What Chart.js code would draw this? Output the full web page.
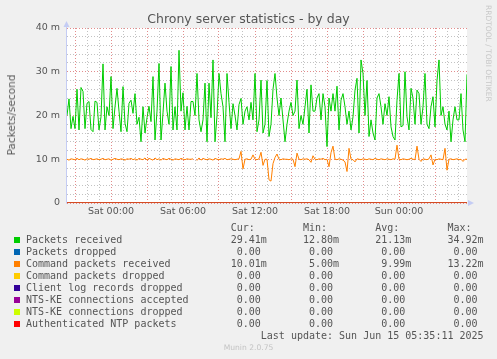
<!DOCTYPE html>
<html>
<head>
<meta charset="utf-8">
<script src="https://cdn.jsdelivr.net/npm/chart.js@4.4.0/dist/chart.umd.min.js"></script>
<style>
  html, body { margin: 0; padding: 0; background: #f0f0f0; }
  #wrap { position: relative; width: 497px; height: 359px; overflow: hidden; font-family: "DejaVu Sans", sans-serif; }
  #chart { position: absolute; left: 0; top: 0; }
  .title { position: absolute; left: 0; top: 12px; width: 497px; text-align: center; font-size: 12.5px; line-height: 14px; color: #555; }
  .ylabel { position: absolute; left: 10.5px; top: 115px; transform: translate(-50%, -50%) rotate(-90deg); font-size: 10.5px; color: #5a5a5a; white-space: nowrap; }
  .credit { position: absolute; left: 484px; top: 5px; writing-mode: vertical-rl; font-size: 7.5px; line-height: 8px; color: #c8c8c8; white-space: nowrap; }
  pre.legend { position: absolute; left: 26px; top: 221.7px; margin: 0; font-family: "DejaVu Sans Mono", monospace; font-size: 10px; line-height: 12px; color: #555; }
  .sw { position: absolute; left: 14px; width: 6px; height: 6px; }
  .munin { position: absolute; left: 0; top: 343px; width: 497px; text-align: center; font-size: 7.6px; line-height: 10px; color: #c4c4c4; }
</style>
</head>
<body>
<div id="wrap">
  <canvas id="chart" width="497" height="225"></canvas>
  <div class="title">Chrony server statistics - by day</div>
  <div class="ylabel">Packets/second</div>
  <div class="credit">RRDTOOL / TOBI OETIKER</div>
  <pre class="legend" id="legend"></pre>
  <div class="munin">Munin 2.0.75</div>
</div>
<script>
// ---- data (hours relative to Sat 00:00, one sample every 10 minutes) ----
const startHour = -44 / 12;
const endHour = startHour + 400 / 12;
const sampleStep = 1 / 6;

// packets received (m/s)
const packetsReceived = [
  20, 23.8, 17, 19.8, 17, 26, 16.7, 26.4, 25.5, 17, 22.8, 23.2, 16.8, 16.3, 23.3, 23, 16.7, 19.7, 31.8, 16.7,
  22, 20, 28.9, 17, 22, 26.2, 21, 16.3, 26.6, 18.2, 16.3, 22.8, 23.5,
  20.5, 25, 18, 19.6, 14, 22, 16, 19.5, 22.1, 18.6, 28.9, 14.4, 21, 31.9, 14.4, 20.6, 27.4, 21, 18, 31.2,
  16.7, 22, 16.7, 34.9, 21, 25.2, 16.7, 22.1, 16.7, 23.2, 23.2, 20, 29.6, 19,
  16.3, 19, 27.4, 14, 27.4, 19.5, 32.7, 14, 20, 29.6, 25, 22, 14, 29.6, 23, 17, 22.7, 20, 16.7, 22.5,
  23.9, 18, 21, 22, 19, 23, 19, 29.6, 16.3, 19, 28.1, 16, 18, 28,
  15.2, 18, 26, 29.6, 24, 20, 24, 19, 14, 18, 21, 23, 20, 21, 28.1, 17, 20, 18, 22, 26,
  16, 27, 21, 21, 24, 25, 19, 25, 22, 12.9, 24, 21, 25, 21,
  26.7, 16.7, 23.5, 25, 22, 18, 21, 16.7, 19.7, 25.8, 28.5, 16, 32.7, 29.6, 20, 28, 15.2, 19, 16, 14.4,
  24, 25, 22, 18, 22.7, 20, 24.3, 17.4, 15.2, 14.4, 23.5, 29.6, 17.4, 17.7,
  30, 19.7, 16.7, 26.2, 24, 18, 25.8, 25, 18, 22, 29.6, 18, 17, 22, 24.3, 17.4, 28, 32.7, 20, 22,
  18, 16.7, 21, 14, 19, 22, 19, 19, 25, 16.7, 14, 29.4
];

// command packets received (m/s), null = no data
const commandReceived = [
  10.0, 9.8, 10.1, 10.0, 9.9, 10.2, 9.9, 10.1, 10.0, 9.8,
  10.1, 10.0, 10.2, 9.9, 10.0, 10.1, 9.9, 10.0, 10.2, 9.9,
  10.0, 10.1, 9.8, 10.0, 10.2, 10.0, 9.9, 10.1, 10.0, 9.8,
  10.1, 10.0, 10.2, 9.9, 10.1, 9.8, 10.2, 10.0, 9.9, 10.3,
  9.8, 10.2, 10.0, 9.8, 10.3, 9.9, 10.1, 9.8, 10.2, 10.0,
  9.9, 10.2, 10.0, 9.8, 10.1, 10.0, 9.9, 10.2, 10.0, 9.9,
  10.1, 10.0, 10.0, 10.1, null, 9.7, 10.3, 9.8, 10.2, 10.0,
  9.9, 10.1, 10.0, 9.8, 10.2, 10.0, 9.9, 10.1, 10.0, 10.2,
  9.9, 10.0, 10.1, 10.0, 9.9, 10.0, 10.1, 11.8, 7.8, 10.0,
  10.1, 9.9, 10.0, 11.0, 10.0, 9.9, 10.1, 11.6, 8.6, 10.0,
  10.0, 5.3, 5.0, 9.0, 10.4, 11.2, 10.0, 9.9, 10.1, 10.0,
  10.0, 9.9, 10.1, 10.0, 8.3, 11.4, 10.0, 9.9, 10.1, 10.0,
  10.1, 9.9, 9.3, 10.8, 10.0, 9.9, 10.1, 10.0, 10.2, 9.9,
  10.0, 8.3, 11.5, 13.0, 10.0, 9.9, 10.1, 10.0, 9.8, 9.4,
  7.2, 12.5, 10.0, 9.9, 9.4, 10.1, 10.0, 9.9, 10.1, 10.0,
  9.9, 10.1, 10.0, 9.9, 10.2, 10.0, 9.9, 10.1, 10.0, 9.9,
  10.1, 10.0, 9.9, 10.1, 10.0, 13.22, 10.0, 9.9, 10.1, 10.0,
  9.9, 10.0, 10.2, 10.0, 9.9, 13.0, 10.0, 9.5, 10.1, 10.0,
  9.9, 10.1, 11.0, 8.7, 10.0, 9.9, 10.1, 10.0, 9.9, 12.5,
  7.5, 10.0, 10.1, 9.9, 10.0, 10.1, 9.9, 10.0, 9.5, 10.0,
  10.0
];

// the other six fields stay at zero over the whole range
const zeroHours = [startHour, endHour];
const zeroValues = [0, 0];

const seriesNames = [
  'Packets received', 'Packets dropped', 'Command packets received', 'Command packets dropped',
  'Client log records dropped', 'NTS-KE connections accepted', 'NTS-KE connections dropped',
  'Authenticated NTP packets'
];
const seriesColors = ['#00cc00', '#0066b3', '#ff8000', '#ffcc00', '#330099', '#990099', '#ccff00', '#ff0000'];
const curValues = ['29.41m', '0.00', '10.01m', '0.00', '0.00', '0.00', '0.00', '0.00'];
const minValues = ['12.80m', '0.00', '5.00m', '0.00', '0.00', '0.00', '0.00', '0.00'];
const avgValues = ['21.13m', '0.00', '9.99m', '0.00', '0.00', '0.00', '0.00', '0.00'];
const maxValues = ['34.92m', '0.00', '13.22m', '0.00', '0.00', '0.00', '0.00', '0.00'];
const lastUpdate = 'Last update: Sun Jun 15 05:35:11 2025';

const timeTickHours = [0, 6, 12, 18, 24];
const timeTickLabels = ['Sat 00:00', 'Sat 06:00', 'Sat 12:00', 'Sat 18:00', 'Sun 00:00'];
const valueTicks = [0, 10, 20, 30, 40];
const valueTickLabels = ['0', '10 m', '20 m', '30 m', '40 m'];

// ---- grid: minor every hour / 2m, major every 3 hours / 10m ----
const hourGrid = [];
for (let h = Math.ceil(startHour); h <= Math.floor(endHour); h++) hourGrid.push(h);
const valueGrid = [];
for (let v = 0; v <= 40; v += 2) valueGrid.push(v);

const MAJOR = '#e28c8c';
const MINOR = '#c2c2c2';
const AXIS = '#c4ccf4';

const sampleHours = packetsReceived.map((_, i) => startHour + i * sampleStep);

function points(hours, values) {
  return values.map((v, i) => ({ x: hours[i], y: v }));
}

const datasets = seriesNames.map((name, i) => {
  let data;
  if (i === 0) data = points(sampleHours, packetsReceived);
  else if (i === 2) data = points(sampleHours, commandReceived);
  else data = points(zeroHours, zeroValues);
  return {
    label: name,
    data: data,
    borderColor: seriesColors[i],
    borderWidth: 1,
    pointRadius: 0,
    tension: 0,
    spanGaps: false,
    order: seriesNames.length - i
  };
});

const plotBackground = {
  id: 'plotBackground',
  beforeDraw(chart) {
    const { ctx, chartArea: a } = chart;
    ctx.save();
    ctx.fillStyle = '#ffffff';
    ctx.fillRect(a.left, a.top, a.right - a.left, a.bottom - a.top);
    ctx.restore();
  }
};

const axisArrows = {
  id: 'axisArrows',
  afterDraw(chart) {
    const { ctx, chartArea: a } = chart;
    ctx.save();
    ctx.strokeStyle = AXIS;
    ctx.fillStyle = AXIS;
    ctx.lineWidth = 1;
    ctx.beginPath();
    ctx.moveTo(a.left - 0.5, a.bottom + 0.5);
    ctx.lineTo(a.left - 0.5, a.top - 2);
    ctx.stroke();
    ctx.beginPath();
    ctx.moveTo(a.left - 0.5, a.top - 7);
    ctx.lineTo(a.left - 3.5, a.top - 1);
    ctx.lineTo(a.left + 2.5, a.top - 1);
    ctx.closePath();
    ctx.fill();
    ctx.beginPath();
    ctx.moveTo(a.right + 7, a.bottom);
    ctx.lineTo(a.right + 1, a.bottom - 3);
    ctx.lineTo(a.right + 1, a.bottom + 3);
    ctx.closePath();
    ctx.fill();
    ctx.restore();
  }
};

new Chart(document.getElementById('chart'), {
  type: 'line',
  data: { datasets: datasets },
  options: {
    responsive: false,
    animation: false,
    events: [],
    layout: { padding: { left: 0, top: 28, right: 30, bottom: 0 } },
    plugins: { legend: { display: false }, tooltip: { enabled: false } },
    scales: {
      x: {
        type: 'linear',
        min: startHour,
        max: endHour,
        afterFit: s => { s.height = 22; },
        afterBuildTicks: s => { s.ticks = hourGrid.map(v => ({ value: v })); },
        ticks: {
          autoSkip: false,
          maxRotation: 0,
          padding: 3,
          color: '#555',
          font: { family: 'DejaVu Sans', size: 9.5 },
          callback: v => {
            const k = timeTickHours.indexOf(v);
            return k >= 0 ? timeTickLabels[k] : '';
          }
        },
        grid: {
          drawTicks: false,
          lineWidth: 1,
          color: ctx => (ctx.tick && Math.abs(ctx.tick.value % 3) === 0 ? MAJOR : MINOR)
        },
        border: { display: false, dash: [1, 2] }
      },
      y: {
        min: 0,
        max: 40,
        afterFit: s => { s.width = 67; },
        afterBuildTicks: s => { s.ticks = valueGrid.map(v => ({ value: v })); },
        ticks: {
          autoSkip: false,
          padding: 7,
          color: '#555',
          font: { family: 'DejaVu Sans', size: 9.5 },
          callback: v => {
            const k = valueTicks.indexOf(v);
            return k >= 0 ? valueTickLabels[k] : '';
          }
        },
        grid: {
          drawTicks: false,
          lineWidth: 1,
          color: ctx => (ctx.tick && ctx.tick.value % 10 === 0 ? MAJOR : MINOR)
        },
        border: { display: false, dash: [1, 2] }
      }
    }
  },
  plugins: [plotBackground, axisArrows]
});

// ---- legend table ----
function field(v) {
  const s = v.endsWith('m') ? v : v + ' ';
  return s.padStart(6, ' ');
}
const pad = n => ' '.repeat(n);
const lines = [];
lines.push(pad(34) + 'Cur:' + pad(8) + 'Min:' + pad(8) + 'Avg:' + pad(8) + 'Max:');
seriesNames.forEach((name, i) => {
  lines.push(name.padEnd(34, ' ') + field(curValues[i]) + pad(6) + field(minValues[i]) + pad(6) +
    field(avgValues[i]) + pad(6) + field(maxValues[i]));
});
lines.push(pad(39) + lastUpdate);
document.getElementById('legend').textContent = lines.join('\n');

const wrap = document.getElementById('wrap');
seriesColors.forEach((c, i) => {
  const sw = document.createElement('div');
  sw.className = 'sw';
  sw.style.background = c;
  sw.style.top = (236.7 + 12 * i) + 'px';
  wrap.appendChild(sw);
});
</script>
</body>
</html>
